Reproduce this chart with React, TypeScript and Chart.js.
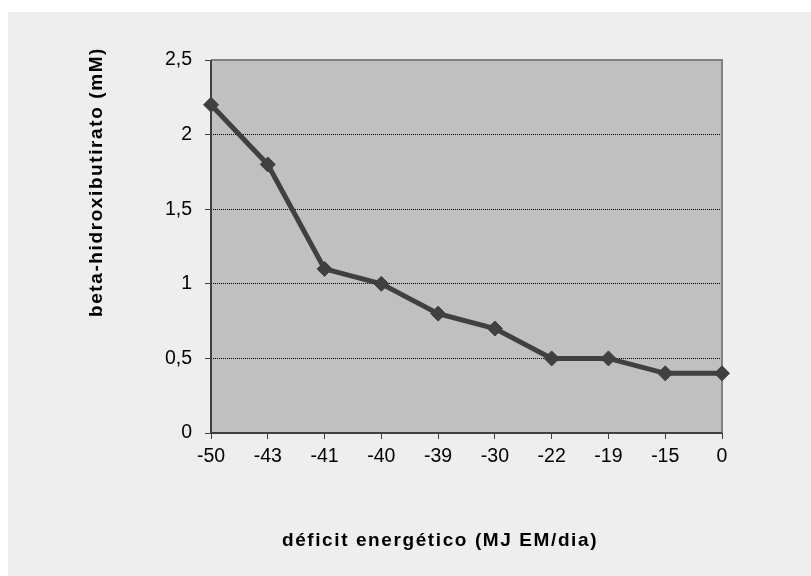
import { useEffect, useRef } from "react";
import { Chart, registerables } from "chart.js";

Chart.register(...registerables);

// Energy deficit categories (MJ EM/dia) and the measured beta-hydroxybutyrate level
const categories = ["-50", "-43", "-41", "-40", "-39", "-30", "-22", "-19", "-15", "0"];
const betaHydroxybutyrate = [2.2, 1.8, 1.1, 1.0, 0.8, 0.7, 0.5, 0.5, 0.4, 0.4];

// Value axis ticks, written with a decimal comma
const yTickValues = [0, 0.5, 1, 1.5, 2, 2.5];
const yTickLabels = ["0", "0,5", "1", "1,5", "2", "2,5"];

const xTitle = "déficit energético (MJ EM/dia)";
const yTitle = "beta-hidroxibutirato (mM)";

const FONT = '"Liberation Sans", Arial, Helvetica, sans-serif';
const INK = "#404040";

// Grey fill behind the plot area
const plotBackground = {
  id: "plotBackground",
  beforeDraw(chart: any) {
    const { ctx, chartArea: a } = chart;
    ctx.save();
    ctx.fillStyle = "#c0c0c0";
    ctx.fillRect(a.left, a.top, a.right - a.left, a.bottom - a.top);
    ctx.restore();
  },
};

// Plot frame: dark axes on the left and bottom, lighter edges on top and right
const plotFrame = {
  id: "plotFrame",
  beforeDatasetsDraw(chart: any) {
    const { ctx, chartArea: a } = chart;
    ctx.save();
    ctx.lineWidth = 2;
    ctx.strokeStyle = "#808080";
    ctx.beginPath();
    ctx.moveTo(a.left, a.top);
    ctx.lineTo(a.right, a.top);
    ctx.lineTo(a.right, a.bottom);
    ctx.stroke();
    ctx.strokeStyle = INK;
    ctx.beginPath();
    ctx.moveTo(a.left, a.top);
    ctx.lineTo(a.left, a.bottom);
    ctx.lineTo(a.right, a.bottom);
    ctx.stroke();
    ctx.restore();
  },
};

// Bold axis titles
const axisTitles = {
  id: "axisTitles",
  afterDraw(chart: any) {
    const { ctx } = chart;
    ctx.save();
    ctx.fillStyle = "#000";
    ctx.font = `bold 19px ${FONT}`;
    ctx.textAlign = "center";
    ctx.textBaseline = "middle";
    (ctx as any).letterSpacing = "1.6px";
    ctx.fillText(xTitle, 432, 529);
    ctx.translate(89, 170);
    ctx.rotate(-Math.PI / 2);
    ctx.fillText(yTitle, 0, 0);
    ctx.restore();
  },
};

export default function App() {
  const canvasRef = useRef<HTMLCanvasElement>(null);

  useEffect(() => {
    const canvas = canvasRef.current;
    if (!canvas) return;

    const chart = new Chart(canvas, {
      type: "line",
      data: {
        labels: categories,
        datasets: [
          {
            data: betaHydroxybutyrate,
            borderColor: INK,
            borderWidth: 5,
            tension: 0,
            pointStyle: "rectRot",
            pointRadius: 7.5,
            pointBackgroundColor: INK,
            pointBorderColor: INK,
            pointBorderWidth: 1,
            clip: false as any,
          },
        ],
      },
      options: {
        animation: false,
        responsive: false,
        devicePixelRatio: 1,
        layout: { padding: { left: 0, top: 48, right: 89, bottom: 0 } },
        plugins: {
          legend: { display: false },
          tooltip: { enabled: false },
        },
        scales: {
          x: {
            type: "category",
            offset: false,
            grid: {
              drawOnChartArea: false,
              drawTicks: true,
              tickLength: 6,
              tickColor: INK,
              tickWidth: 1,
            },
            border: { display: false },
            ticks: {
              color: "#000",
              font: { family: FONT, size: 19.5 },
              padding: 6,
              maxRotation: 0,
              autoSkip: false,
            },
            afterFit(scale: any) {
              scale.height = 143;
            },
          },
          y: {
            min: 0,
            max: 2.5,
            afterBuildTicks(scale: any) {
              scale.ticks = yTickValues.map((v) => ({ value: v }));
            },
            grid: {
              color: "#000",
              lineWidth: 1,
              drawTicks: true,
              tickLength: 6,
              tickColor: INK,
              tickWidth: 1,
              tickBorderDash: [],
            } as any,
            border: { display: false, dash: [1, 1] },
            ticks: {
              color: "#000",
              font: { family: FONT, size: 19.5 },
              padding: 13,
              callback: (value: any) => {
                const i = yTickValues.indexOf(Number(value));
                return i >= 0 ? yTickLabels[i] : "";
              },
            },
            afterFit(scale: any) {
              scale.width = 203;
            },
          },
        },
      },
      plugins: [plotBackground, plotFrame, axisTitles],
    });

    return () => chart.destroy();
  }, []);

  return (
    <div
      style={{
        position: "fixed",
        left: 8,
        top: 12,
        width: 803,
        height: 564,
        background: "#eeeeee",
      }}
    >
      <canvas
        ref={canvasRef}
        width={803}
        height={564}
        style={{ display: "block", width: 803, height: 564 }}
      />
    </div>
  );
}
